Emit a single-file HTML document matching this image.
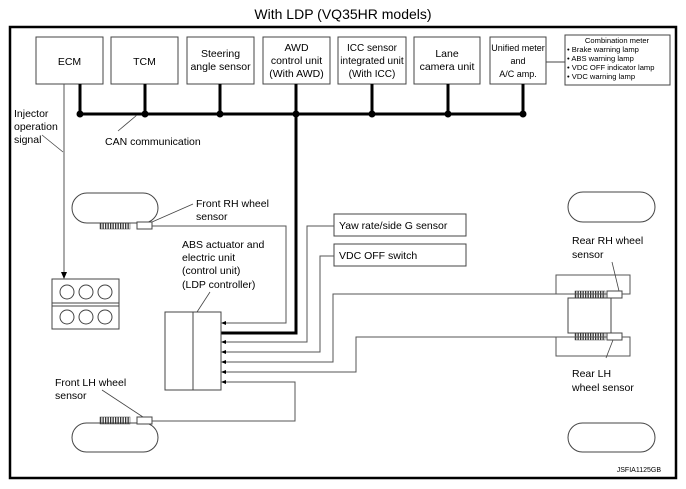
<!DOCTYPE html>
<html><head><meta charset="utf-8"><style>
html,body{margin:0;padding:0;background:#fff;}
svg{display:block;}
text{font-family:"Liberation Sans",Arial,sans-serif;fill:#000;}
</style></head><body>
<svg width="686" height="489" viewBox="0 0 686 489" xmlns="http://www.w3.org/2000/svg">
<text x="343" y="19" font-size="14" text-anchor="middle">With LDP (VQ35HR models)</text>
<rect x="10" y="27" width="666" height="451" fill="none" stroke="#000" stroke-width="2.5"/>

<g fill="#fff" stroke="#444" stroke-width="1">
<rect x="36" y="37" width="67" height="47"/>
<rect x="111" y="37" width="67" height="47"/>
<rect x="187" y="37" width="67" height="47"/>
<rect x="263" y="37" width="67" height="47"/>
<rect x="338" y="37" width="68" height="47"/>
<rect x="414" y="37" width="66" height="47"/>
<rect x="490" y="37" width="56" height="47"/>
<rect x="565" y="35" width="105" height="50"/>
</g>
<g font-size="10.5" text-anchor="middle">
<text x="69.5" y="65">ECM</text>
<text x="144.5" y="65">TCM</text>
<text x="220.5" y="57">Steering</text><text x="220.5" y="70">angle sensor</text>
<text x="296.5" y="51">AWD</text><text x="296.5" y="64">control unit</text><text x="296.5" y="77">(With AWD)</text>
<text x="372" y="51" font-size="10">ICC sensor</text><text x="372" y="64" font-size="10">integrated unit</text><text x="372" y="77" font-size="10">(With ICC)</text>
<text x="447" y="57">Lane</text><text x="447" y="70">camera unit</text>
<text x="518" y="51" font-size="9">Unified meter</text><text x="518" y="64" font-size="9">and</text><text x="518" y="77" font-size="9">A/C amp.</text>
</g>
<g font-size="7.6">
<text x="617" y="43" text-anchor="middle">Combination meter</text>
<text x="567" y="52">• Brake warning lamp</text>
<text x="567" y="61">• ABS warning lamp</text>
<text x="567" y="70">• VDC OFF indicator lamp</text>
<text x="567" y="79">• VDC warning lamp</text>
</g>
<line x1="546" y1="62" x2="565" y2="62" stroke="#444" stroke-width="1"/>

<g stroke="#000" stroke-width="3" fill="none">
<line x1="80" y1="114" x2="523" y2="114"/>
<line x1="80" y1="84" x2="80" y2="114"/>
<line x1="145" y1="84" x2="145" y2="114"/>
<line x1="220" y1="84" x2="220" y2="114"/>
<line x1="372" y1="84" x2="372" y2="114"/>
<line x1="448" y1="84" x2="448" y2="114"/>
<line x1="523" y1="84" x2="523" y2="114"/>
<polyline points="296,84 296,333 221,333"/>
</g>
<g fill="#000">
<circle cx="80" cy="114" r="3.5"/><circle cx="145" cy="114" r="3.5"/><circle cx="220" cy="114" r="3.5"/>
<circle cx="296" cy="114" r="3.5"/><circle cx="372" cy="114" r="3.5"/><circle cx="448" cy="114" r="3.5"/><circle cx="523" cy="114" r="3.5"/>
</g>

<line x1="64" y1="84" x2="64" y2="273" stroke="#555" stroke-width="1"/>
<polygon points="61,272 67,272 64,279" fill="#000"/>
<g font-size="10.5">
<text x="14" y="117">Injector</text><text x="14" y="130">operation</text><text x="14" y="143">signal</text>
<text x="105" y="145">CAN communication</text>
</g>
<g stroke="#444" stroke-width="0.8">
<line x1="42" y1="135" x2="63" y2="152"/>
<line x1="118" y1="131" x2="137" y2="115"/>
</g>

<g fill="none" stroke="#444" stroke-width="1">
<rect x="52" y="279" width="67" height="50"/>
<line x1="52" y1="303" x2="119" y2="303"/><line x1="52" y1="306" x2="119" y2="306"/>
<circle cx="67" cy="292" r="7"/><circle cx="86" cy="292" r="7"/><circle cx="105" cy="292" r="7"/>
<circle cx="67" cy="317" r="7"/><circle cx="86" cy="317" r="7"/><circle cx="105" cy="317" r="7"/>
</g>

<g fill="#fff" stroke="#444" stroke-width="1">
<rect x="72" y="193" width="86" height="30" rx="15"/>
<rect x="72" y="423" width="86" height="29" rx="14.5"/>
<rect x="568" y="192" width="87" height="30" rx="15"/>
<rect x="568" y="423" width="87" height="29" rx="14.5"/>
<rect x="137" y="222" width="15" height="7"/>
<rect x="137" y="417" width="15" height="7"/>
<rect x="568" y="298" width="43" height="35"/>
<rect x="607" y="291" width="15" height="7"/>
<rect x="607" y="333" width="15" height="7"/>
</g>
<defs><pattern id="t" width="2.5" height="7" patternUnits="userSpaceOnUse"><rect width="1.3" height="7" fill="#333"/></pattern></defs>
<rect x="100" y="223" width="30" height="6" fill="url(#t)" stroke="#444" stroke-width="0.5"/>
<rect x="100" y="417" width="30" height="7" fill="url(#t)" stroke="#444" stroke-width="0.5"/>
<rect x="575" y="291" width="30" height="7" fill="url(#t)" stroke="#444" stroke-width="0.5"/>
<rect x="575" y="333" width="30" height="7" fill="url(#t)" stroke="#444" stroke-width="0.5"/>

<rect x="165" y="312" width="56" height="78" fill="#fff" stroke="#444" stroke-width="1"/>
<line x1="193" y1="312" x2="193" y2="390" stroke="#444" stroke-width="1"/>

<rect x="334" y="214" width="132" height="22" fill="#fff" stroke="#444" stroke-width="1"/>
<rect x="334" y="244" width="132" height="22" fill="#fff" stroke="#444" stroke-width="1"/>
<text x="339" y="229" font-size="10.5">Yaw rate/side G sensor</text>
<text x="339" y="259" font-size="10.5">VDC OFF switch</text>

<g fill="none" stroke="#555" stroke-width="1">
<polyline points="152,226 286,226 286,323 225,323"/>
<polyline points="334,226 307,226 307,342 225,342"/>
<polyline points="334,256 320,256 320,352 225,352"/>
<polyline points="607,294 556,294 556,275 630,275 630,294 622,294"/>
<polyline points="556,294 333,294 333,362 225,362"/>
<polyline points="607,337 556,337 556,356 630,356 630,337 622,337"/>
<polyline points="556,337 356,337 356,372 225,372"/>
<polyline points="152,421 295,421 295,382 225,382"/>
</g>
<g fill="#000">
<polygon points="221,323 226,321 226,325"/>
<polygon points="221,342 226,340 226,344"/>
<polygon points="221,352 226,350 226,354"/>
<polygon points="221,362 226,360 226,364"/>
<polygon points="221,372 226,370 226,374"/>
<polygon points="221,382 226,380 226,384"/>
</g>

<g font-size="10.5">
<text x="196" y="207">Front RH wheel</text><text x="196" y="220">sensor</text>
<text x="182" y="248">ABS actuator and</text><text x="182" y="261">electric unit</text><text x="182" y="274">(control unit)</text><text x="182" y="288">(LDP controller)</text>
<text x="55" y="386">Front LH wheel</text><text x="55" y="399">sensor</text>
<text x="572" y="244">Rear RH wheel</text><text x="572" y="258">sensor</text>
<text x="572" y="377">Rear LH</text><text x="572" y="391">wheel sensor</text>
</g>
<g stroke="#444" stroke-width="0.8">
<line x1="152" y1="222" x2="193" y2="204"/>
<line x1="197" y1="312" x2="210" y2="292"/>
<line x1="102" y1="390" x2="143" y2="417"/>
<line x1="612" y1="262" x2="619" y2="291"/>
<line x1="606" y1="358" x2="613" y2="340"/>
</g>
<text x="661" y="472" font-size="7" text-anchor="end">JSFIA1125GB</text>
</svg>
</body></html>
